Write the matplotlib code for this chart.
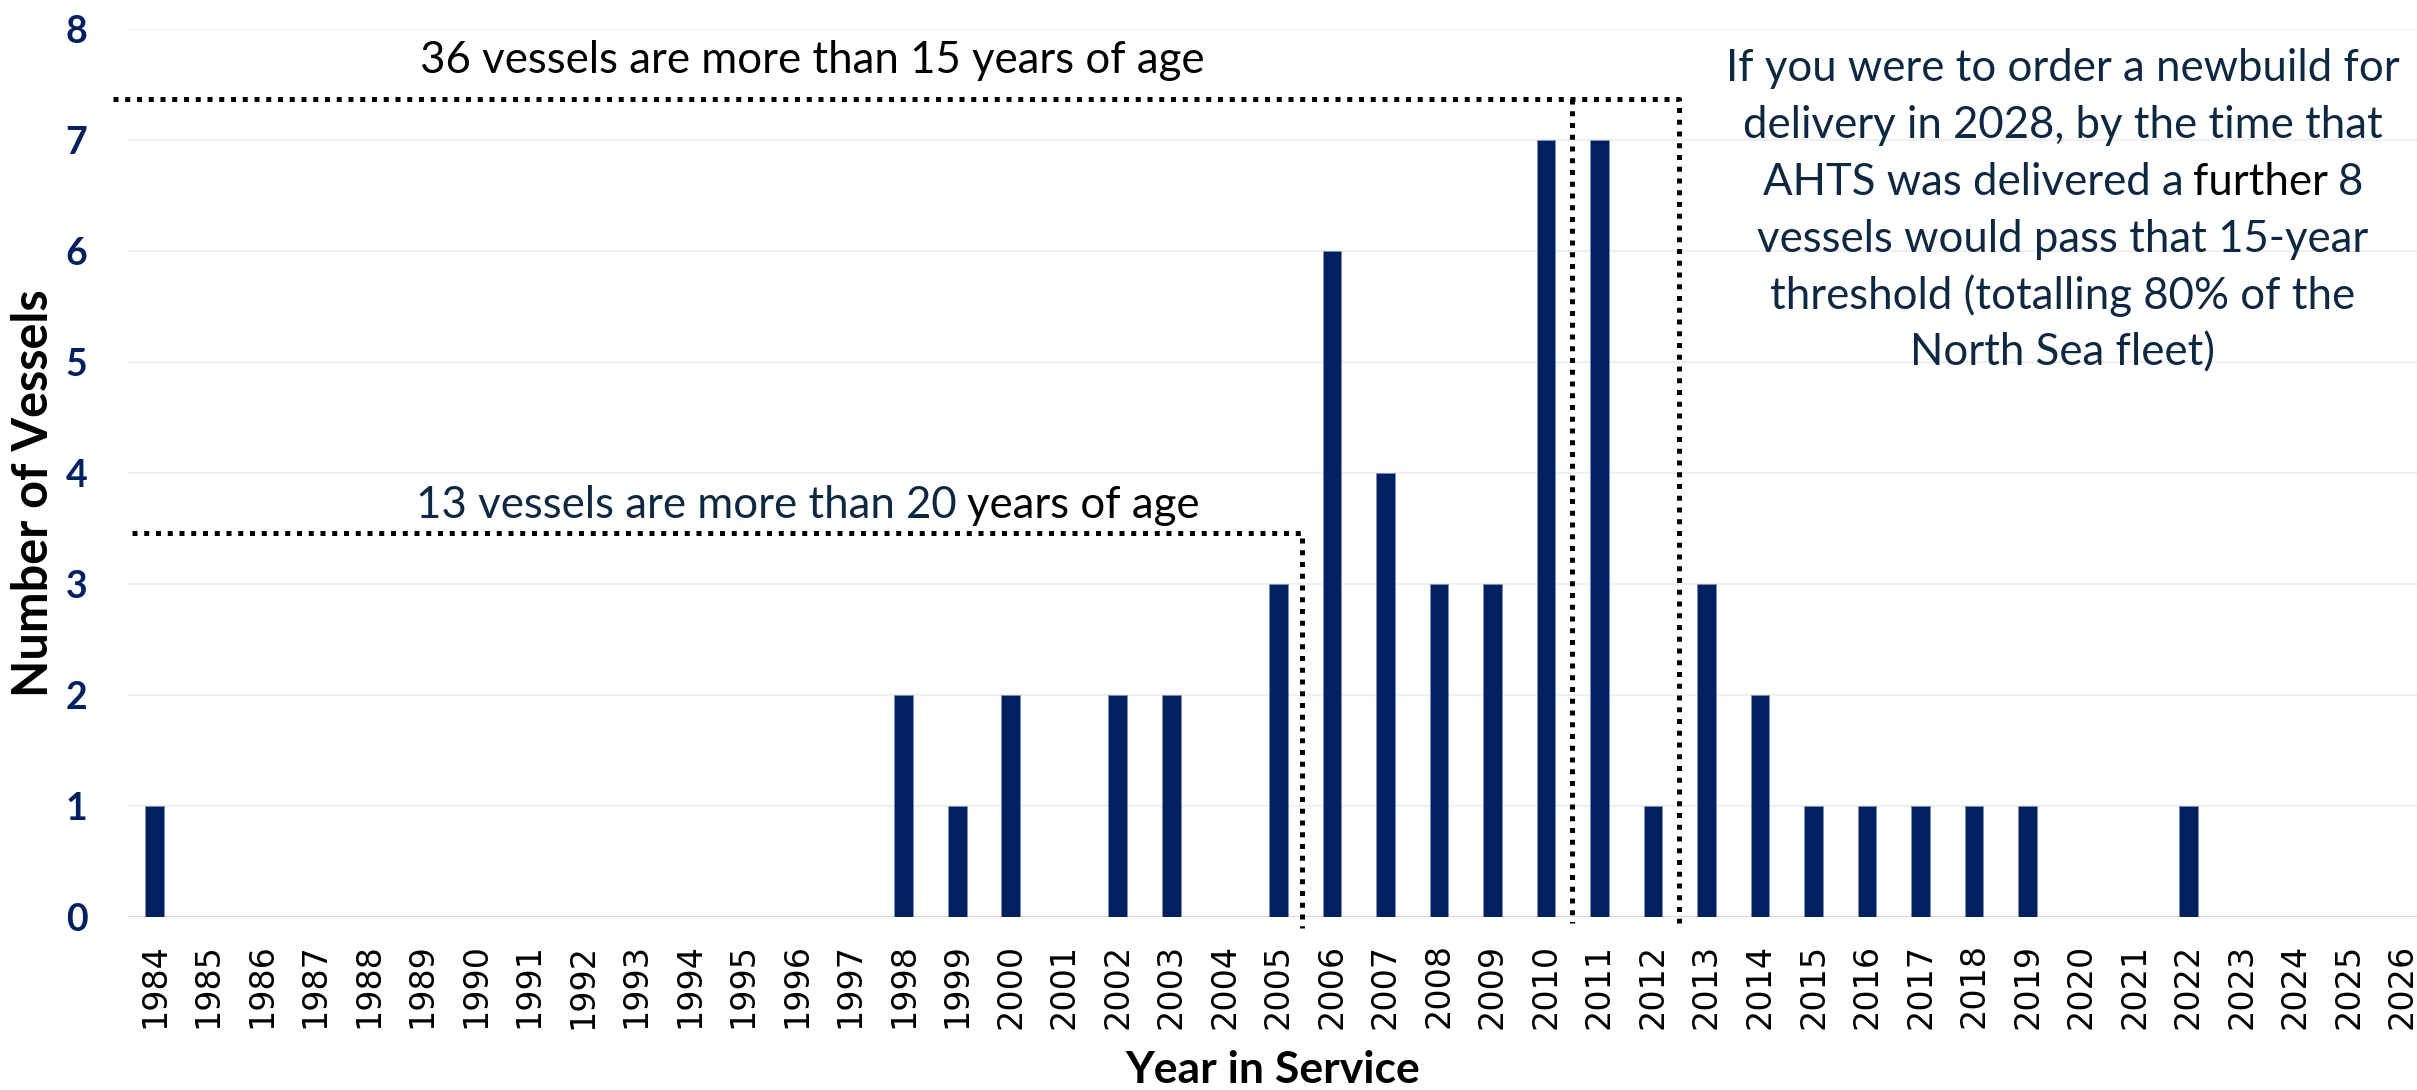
import matplotlib
matplotlib.use("Agg")
import matplotlib.pyplot as plt

# vessel counts by year in service
years = list(range(1984, 2027))
vessels = [1, 0, 0, 0, 0, 0, 0, 0, 0, 0, 0, 0, 0, 0,
           2, 1, 2, 0, 2, 2, 0, 3, 6, 4, 3, 3, 7, 7, 1,
           3, 2, 1, 1, 1, 1, 1, 0, 0, 1, 0, 0, 0, 0]

y_ticks = list(range(0, 9))

note_15 = "36 vessels are more than 15 years of age"
note_20 = [("13 vessels are more than 20", "navy"), ("years of age", "black")]
note_2028 = [
    [("If you were to order a newbuild for", "navy")],
    [("delivery in 2028, by the time that", "navy")],
    [("AHTS was delivered a", "navy"), ("further", "black"), ("8", "navy")],
    [("vessels would pass that 15-year", "navy")],
    [("threshold (totalling 80% of the", "navy")],
    [("North Sea fleet)", "navy")],
]

BAR = "#002060"
NAVY = "#0E2841"
TXT_FONT = "Lato"
TXT_SIZE = 31.5

W, H = 2417, 1090
fig = plt.figure(figsize=(W / 100, H / 100), dpi=100)
ax = fig.add_axes([127.7 / W, 173 / H, (2429 - 127.7) / W, 888 / H])

x = [y - years[0] for y in years]
ax.bar(x, vessels, width=0.35, color=BAR, edgecolor="#8090B8", linewidth=0.6, zorder=3)

ax.set_xlim(-0.5, len(years) - 0.5)
ax.set_ylim(0, 8)
ax.set_xticks(x)
ax.set_xticklabels([str(y) for y in years], rotation=90, fontsize=24,
                   family="DejaVu Sans", color="black")
ax.set_yticks(y_ticks)
ax.set_yticklabels([str(v) for v in y_ticks], fontsize=27, family=TXT_FONT,
                   fontweight="bold", color=BAR)
ax.tick_params(axis="x", length=0, pad=19)
ax.tick_params(axis="y", length=0, pad=29)
for s in ax.spines.values():
    s.set_visible(False)
ax.yaxis.grid(True, color="#F0F0F0", lw=1.6, zorder=0)
ax.axhline(0, color="#D9D9D9", lw=2.2, zorder=2)

fig.text(34 / W, 1 - 493 / H, "Number of Vessels", rotation=90, ha="center",
         va="center", fontsize=35, family=TXT_FONT, fontweight="bold")
fig.text(1273 / W, 0.006, "Year in Service", ha="center", va="baseline",
         fontsize=32, family=TXT_FONT, fontweight="bold")

# dotted brackets
dots = dict(color="black", lw=3.6, linestyle=(0, (1, 1.35)), dash_capstyle="butt",
            clip_on=False, zorder=4)
ax.plot([-0.775, 28.48, 28.48], [7.37, 7.37, -0.054], **dots)
ax.plot([26.48, 26.48], [7.37, -0.054], **dots)
ax.plot([-0.42, 21.45, 21.45], [3.46, 3.46, -0.1], **dots)


def colour(c):
    return NAVY if c == "navy" else c


def multicolor(ax, xc, y, parts):
    # draw pieces side by side, baseline aligned, centred on xc
    first = ax.text(xc, y, parts[0][0], color=colour(parts[0][1]), ha="left",
                    va="bottom", fontsize=TXT_SIZE, family=TXT_FONT, zorder=5)
    pieces = [first]
    prev = first
    for s, c in parts[1:]:
        prev = ax.annotate(s, xy=(1, 0), xycoords=prev, xytext=(0.22 * TXT_SIZE, 0),
                           textcoords="offset points", ha="left", va="bottom",
                           color=colour(c), fontsize=TXT_SIZE, family=TXT_FONT,
                           zorder=5)
        pieces.append(prev)
    return first, pieces, xc


fig.canvas.draw()
r = fig.canvas.get_renderer()

groups = []
ax.text(12.29, 7.6, note_15, ha="center", va="baseline", fontsize=TXT_SIZE,
        family=TXT_FONT, color="black", zorder=5)
groups.append(multicolor(ax, 12.21, 3.52, note_20))
for i, line in enumerate(note_2028):
    groups.append(multicolor(ax, 35.66, 7.46 - i * 0.513, line))

fig.canvas.draw()
for first, pieces, xc in groups:
    x0 = min(p.get_window_extent(r).x0 for p in pieces)
    x1 = max(p.get_window_extent(r).x1 for p in pieces)
    target = ax.transData.transform((xc, 0))[0]
    shift = target - (x0 + x1) / 2
    px, py = ax.transData.transform(first.get_position())
    first.set_position(ax.transData.inverted().transform((px + shift, py)))

fig.savefig("out.png", dpi=100)
